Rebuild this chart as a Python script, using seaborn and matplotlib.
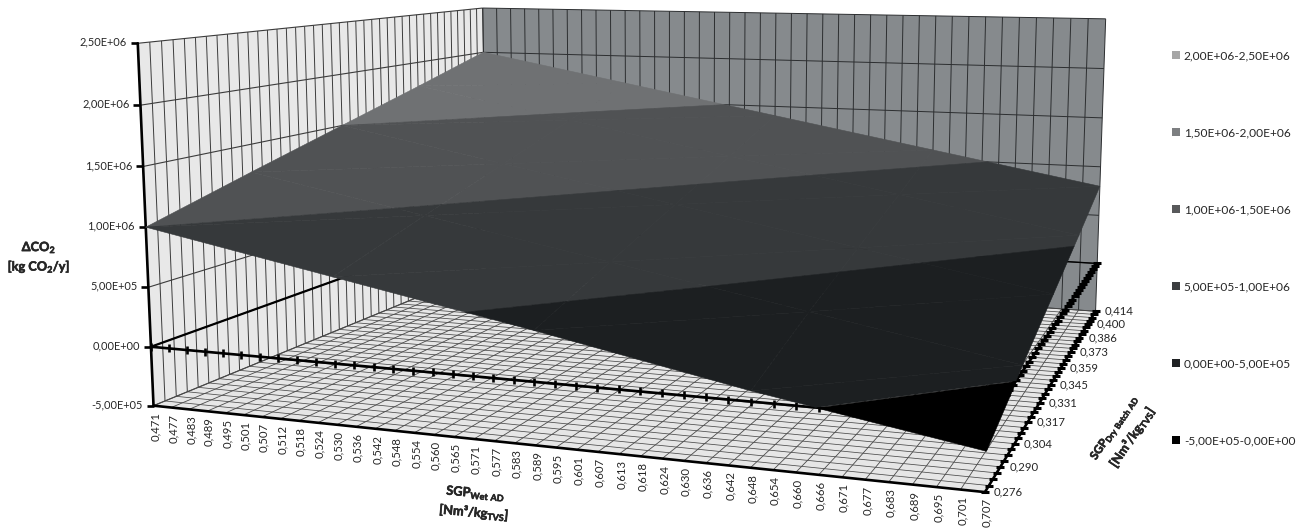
import numpy as np
import matplotlib
matplotlib.use('Agg')
import matplotlib.pyplot as plt
import matplotlib.markers as mk
import matplotlib.patheffects as pe
from matplotlib.patches import Patch
import seaborn as sns
from mpl_toolkits.mplot3d import proj3d
from mpl_toolkits.mplot3d.art3d import Poly3DCollection, Line3DCollection

# ---- data ----
x_labels = ['0,471','0,477','0,483','0,489','0,495','0,501','0,507','0,512','0,518','0,524','0,530',
            '0,536','0,542','0,548','0,554','0,560','0,565','0,571','0,577','0,583','0,589','0,595',
            '0,601','0,607','0,613','0,618','0,624','0,630','0,636','0,642','0,648','0,654','0,660',
            '0,666','0,671','0,677','0,683','0,689','0,695','0,701','0,707']
y_labels = ['0,276','0,290','0,304','0,317','0,331','0,345','0,359','0,373','0,386','0,400','0,414']
z_levels = [-5e5, 0, 5e5, 1e6, 1.5e6, 2e6, 2.5e6]
z_labels = ['-5,00E+05','0,00E+00','5,00E+05','1,00E+06','1,50E+06','2,00E+06','2,50E+06']
band_labels = ['2,00E+06-2,50E+06','1,50E+06-2,00E+06','1,00E+06-1,50E+06',
               '5,00E+05-1,00E+06','0,00E+00-5,00E+05','-5,00E+05-0,00E+00']
surf_x = [0.471, 0.530, 0.589, 0.648, 0.707]
surf_y = [0.276, 0.310, 0.345, 0.380, 0.414]
surf_z = [[1.00e6, 0.70e6, 0.40e6, 0.08e6, -0.20e6],
          [1.25e6, 0.95e6, 0.65e6, 0.35e6, 0.05e6],
          [1.50e6, 1.20e6, 0.90e6, 0.60e6, 0.30e6],
          [1.75e6, 1.45e6, 1.15e6, 0.85e6, 0.55e6],
          [2.00e6, 1.70e6, 1.40e6, 1.10e6, 0.80e6]]
legend_colors = ['#a6a6a6', '#7d7f81', '#58595b', '#3c3e40', '#202224', '#000000']
surface_colors = ['#8c8e90', '#6f7173', '#505254', '#36393b', '#1c1f21', '#000000']

sns.set_theme(style='white')
plt.rcParams['font.family'] = ['Lato', 'Open Sans', 'DejaVu Sans']
plt.rcParams['mathtext.fontset'] = 'custom'
plt.rcParams['mathtext.rm'] = 'Lato:bold'
plt.rcParams['mathtext.bf'] = 'Lato:bold'
plt.rcParams['mathtext.default'] = 'rm'
INK = '#262626'

W, H = 1306, 531
fig = plt.figure(figsize=(W/100, H/100), dpi=100, facecolor='white')
ax = fig.add_subplot(projection='3d', computed_zorder=False)
ax.set_position([0.10597, -0.3759, 0.8006, 1.9691])
ax.set_axis_off()
xt = np.linspace(surf_x[0], surf_x[-1], len(x_labels))
yt = np.linspace(surf_y[0], surf_y[-1], 41)
x0, x1, y0, y1 = xt[0], xt[-1], yt[0], yt[-1]
zb, zt = z_levels[0], z_levels[-1]
ax.set_xlim(x0, x1, view_margin=0)
ax.set_ylim(y0, y1, view_margin=0)
ax.set_zlim(zb, zt, view_margin=0)
ax.set_autoscale_on(False)
ax.view_init(8.486, -70.369, 0.005)
ax.set_proj_type('persp', focal_length=0.3233)
ax.set_box_aspect((2.3012, 2.1309, 1))

def poly(verts, color, z):
    c = Poly3DCollection([verts], facecolors=color, edgecolors='none', zorder=z)
    c.set_clip_on(False)
    ax.add_collection3d(c, autolim=False)

def lines(segs, color, lw, z):
    c = Line3DCollection(segs, colors=color, linewidths=lw, zorder=z)
    c.set_clip_on(False)
    ax.add_collection3d(c, autolim=False)

# walls and floor
poly([(x0,y0,zb),(x0,y1,zb),(x0,y1,zt),(x0,y0,zt)], '#e8e8e8', 1)
poly([(x0,y1,zb),(x1,y1,zb),(x1,y1,zt),(x0,y1,zt)], '#868a8d', 1)
poly([(x0,y0,zb),(x1,y0,zb),(x1,y1,zb),(x0,y1,zb)], '#e6e6e6', 1)
lines([[(x0,v,zb),(x0,v,zt)] for v in yt], '#3c3c3c', 0.7, 2)
lines([[(x0,y0,v),(x0,y1,v)] for v in z_levels], '#3c3c3c', 0.8, 2)
lines([[(v,y1,zb),(v,y1,zt)] for v in xt], '#2c2e30', 0.7, 2)
lines([[(x0,y1,v),(x1,y1,v)] for v in z_levels], '#2c2e30', 0.7, 2)
lines([[(v,y0,zb),(v,y1,zb)] for v in xt], '#4a4a4a', 0.6, 2)
lines([[(x0,v,zb),(x1,v,zb)] for v in yt], '#4a4a4a', 0.55, 2)

# axes
def axis(xs, ys, zs, lw=1.9, marker=None, ms=6, mew=1.9):
    ln, = ax.plot(xs, ys, zs, color='black', lw=lw, marker=marker, ms=ms, mew=mew, zorder=3, clip_on=False)
    return ln
n = len(xt)
axis([x0]*len(z_levels), [y0]*len(z_levels), z_levels, marker=mk.TICKLEFT, ms=5)
axis(xt, [y0]*n, [0]*n, marker='|', ms=5.5)
axis(xt, [y0]*n, [zb]*n, lw=1.9)
axis([x1]*len(yt), yt, [zb]*len(yt), marker='_', ms=5.5, mew=2.2)
axis([x1]*len(yt), yt, [0]*len(yt), marker='_', ms=5.5, mew=2.2)
axis([x0, x0], [y0, y1], [0, 0], lw=1.6)
axis([x0, x1], [y1, y1], [0, 0], lw=1.0)

# surface: cut each triangle of the read table into the legend's value bands
def clip(tri, lo, hi):
    for bound, keep in ((lo, 1), (hi, -1)):
        out = []
        for i in range(len(tri)):
            a, b = np.array(tri[i]), np.array(tri[(i+1) % len(tri)])
            da, db = keep*(a[2]-bound), keep*(b[2]-bound)
            if da >= 0:
                out.append(a)
            if da*db < 0:
                out.append(a + (b-a)*da/(da-db))
        tri = out
        if not tri:
            return []
    return tri

Z = np.array(surf_z)
edges = z_levels[::-1]
for k, (hi, lo) in enumerate(zip(edges[:-1], edges[1:])):
    polys = []
    for j in range(len(surf_y)-1):
        for i in range(len(surf_x)-1):
            c = [(surf_x[i+a], surf_y[j+b], Z[j+b, i+a]) for a, b in ((0,0),(1,0),(1,1),(0,1))]
            for tri in ([c[0], c[1], c[2]], [c[0], c[2], c[3]]):
                p = clip(tri, lo, hi)
                if len(p) >= 3:
                    polys.append(p)
    if polys:
        col = sns.color_palette(surface_colors)[k]
        pc = Poly3DCollection(polys, facecolors=col, edgecolors=col, linewidths=0.4, zorder=5)
        pc.set_clip_on(False)
        ax.add_collection3d(pc, autolim=False)

# labels
M = ax.get_proj()
def label(x, y, z, s, dx, dy, fs=8.2, **kw):
    xv, yv, _ = proj3d.proj_transform(x, y, z, M)
    ax.annotate(s, (xv, yv), xytext=(dx, dy), textcoords='offset pixels',
                annotation_clip=False, color=INK, fontsize=fs, zorder=10, **kw)
for v, s in zip(z_levels, z_labels):
    label(x0, y0, v, s, -11, 1, fs=7.9, ha='right', va='center')
for v, s in zip(xt, x_labels):
    label(v, y0, zb, s, 2, -6, ha='center', va='top', rotation=90)
for v, s in zip(yt[::4], y_labels):
    label(x1, v, zb, s, 9, 0, ha='left', va='center')

heavy = [pe.withStroke(linewidth=0.4, foreground=INK)]
bold = dict(fontweight='bold', color=INK, fontsize=9.2, ha='center', va='center', linespacing=1.1,
            path_effects=heavy)
fig.text(39/W, 1-257/H, 'ΔCO$_{2}$\n[kg CO$_{2}$/y]', **bold)
fig.text(475/W, 1-503/H, 'SGP$_{Wet\\ AD}$\n[Nm³/kg$_{TVS}$]', rotation=-5, **bold)
fig.text(1115/W, 1-428/H, 'SGP$_{Dry\\ Batch\\ AD}$', rotation=56,
         **{**bold, 'fontsize': 8.4})
fig.text(1131.5/W, 1-436.5/H, '[Nm³/kg$_{TVS}$]', rotation=56, **bold)

handles = [Patch(facecolor=c, edgecolor='none') for c in legend_colors]
fig.legend(handles, band_labels, loc='upper left', bbox_to_anchor=(1172/W, 1-50/H), frameon=False,
           fontsize=8.6, labelcolor=INK, handlelength=0.69, handleheight=0.69, handletextpad=0.3,
           labelspacing=5.53, borderpad=0, borderaxespad=0)
fig.savefig('out.png', dpi=100, facecolor='white')
